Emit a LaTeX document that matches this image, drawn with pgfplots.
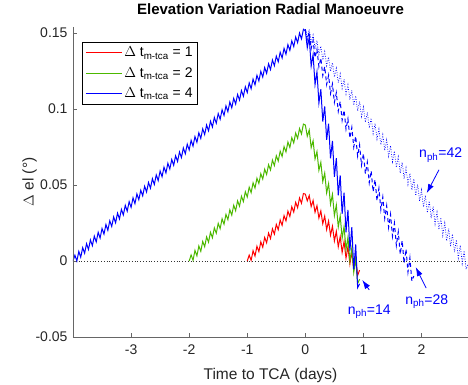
\documentclass[border=0pt]{standalone}
\usepackage{fontspec}
\setmainfont{Liberation Sans}
\usepackage{pgfplots}
\pgfplotsset{compat=1.18}
\usetikzlibrary{arrows.meta}
\definecolor{mgreen}{rgb}{0.30,0.72,0.0}
\definecolor{axgray}{rgb}{0.15,0.15,0.15}
\begin{document}
\begin{tikzpicture}
\useasboundingbox (-73pt,-48pt) rectangle (395pt,337pt);
\begin{axis}[
  at={(0pt,0pt)}, anchor=south west,
  width=395pt, height=310pt, scale only axis,
  xmin=-4, xmax=2.8, ymin=-0.05, ymax=0.154,
  axis line style={draw=none},
  xtick pos=left, ytick pos=left,
  tick style={black!60, line width=0.6pt},
  tick align=inside, major tick length=4pt,
  xtick={-3,-2,-1,0,1,2}, xticklabels={-3,-2,-1,0,1,2},
  ytick={-0.05,0,0.05,0.1,0.15}, yticklabels={-0.05,0,0.05,0.1,0.15},
  scaled y ticks=false,
  tick label style={font=\fontsize{14}{16}\selectfont, text=axgray},
  xticklabel style={yshift=-4pt},
  yticklabel style={xshift=-2pt},
  xlabel={Time to TCA (days)},
  ylabel={$\Delta$ el (°)},
  xlabel style={font=\fontsize{15.5}{17}\selectfont, text=axgray, at={(axis description cs:0.5,0)}, yshift=-38pt, anchor=center},
  ylabel style={font=\fontsize{15.5}{17}\selectfont, text=axgray, at={(axis description cs:-0.110,0.5)}, anchor=center},
  title={Elevation Variation Radial Manoeuvre},
  title style={font=\bfseries\fontsize{15}{17}\selectfont, at={(axis description cs:0.5,1)}, yshift=12pt, anchor=center},
  clip mode=individual,
  legend cell align=left,
  legend style={at={(0.023,0.952)}, anchor=north west,
    font=\fontsize{14}{16}\selectfont, inner sep=3pt, row sep=5pt},
]
\addplot[black!80, line width=0.5pt, dash pattern=on 0.8pt off 2pt, forget plot] coordinates {(-4,0) (2.8,0)};
% red
\addplot[red, line width=1.0pt, forget plot] coordinates {
(-1.0000,0) (-0.9667,0.0039) (-0.9333,0.0004) (-0.9000,0.0068) (-0.8667,0.0033) (-0.8333,0.0097) (-0.8000,0.0062) (-0.7667,0.0126) (-0.7333,0.0091) (-0.7000,0.0155) (-0.6667,0.0120) (-0.6333,0.0184) (-0.6000,0.0148) (-0.5667,0.0212) (-0.5333,0.0177) (-0.5000,0.0241) (-0.4667,0.0206) (-0.4333,0.0270) (-0.4000,0.0235) (-0.3667,0.0299) (-0.3333,0.0264) (-0.3000,0.0328) (-0.2667,0.0293) (-0.2333,0.0357) (-0.2000,0.0322) (-0.1667,0.0386) (-0.1333,0.0351) (-0.1000,0.0415) (-0.0667,0.0380) (-0.0333,0.0444) (0.0000,0.0440)
(0.0333,0.0396) (0.0667,0.0431) (0.1000,0.0358) (0.1333,0.0398) (0.1667,0.0321) (0.2000,0.0364) (0.2333,0.0283) (0.2667,0.0330) (0.3000,0.0245) (0.3333,0.0296) (0.3667,0.0207) (0.4000,0.0263) (0.4333,0.0170) (0.4667,0.0229) (0.5000,0.0132) (0.5333,0.0195) (0.5667,0.0094) (0.6000,0.0161) (0.6333,0.0057) (0.6667,0.0128) (0.7000,0.0019) (0.7333,0.0094) (0.7667,-0.0019) (0.8000,0.0060) (0.8333,-0.0057) (0.8667,0.0026) (0.9000,-0.0095) (0.9333,-0.0060)
};
% green
\addplot[mgreen, line width=1.0pt, forget plot] coordinates {
(-2.0000,0) (-1.9667,0.0040) (-1.9333,0.0005) (-1.9000,0.0070) (-1.8667,0.0034) (-1.8333,0.0099) (-1.8000,0.0064) (-1.7667,0.0129) (-1.7333,0.0094) (-1.7000,0.0159) (-1.6667,0.0124) (-1.6333,0.0189) (-1.6000,0.0153) (-1.5667,0.0218) (-1.5333,0.0183) (-1.5000,0.0248) (-1.4667,0.0213) (-1.4333,0.0278) (-1.4000,0.0242) (-1.3667,0.0307) (-1.3333,0.0272) (-1.3000,0.0337) (-1.2667,0.0302) (-1.2333,0.0367) (-1.2000,0.0331) (-1.1667,0.0396) (-1.1333,0.0361) (-1.1000,0.0426) (-1.0667,0.0391) (-1.0333,0.0456) (-1.0000,0.0421) (-0.9667,0.0486) (-0.9333,0.0450) (-0.9000,0.0515) (-0.8667,0.0480) (-0.8333,0.0545) (-0.8000,0.0510) (-0.7667,0.0575) (-0.7333,0.0539) (-0.7000,0.0604) (-0.6667,0.0569) (-0.6333,0.0634) (-0.6000,0.0599) (-0.5667,0.0664) (-0.5333,0.0628) (-0.5000,0.0693) (-0.4667,0.0658) (-0.4333,0.0723) (-0.4000,0.0688) (-0.3667,0.0753) (-0.3333,0.0718) (-0.3000,0.0783) (-0.2667,0.0747) (-0.2333,0.0812) (-0.2000,0.0777) (-0.1667,0.0842) (-0.1333,0.0807) (-0.1000,0.0872) (-0.0667,0.0836) (-0.0333,0.0901) (0.0000,0.0895)
(0.0333,0.0821) (0.0667,0.0862) (0.1000,0.0746) (0.1333,0.0791) (0.1667,0.0672) (0.2000,0.0720) (0.2333,0.0597) (0.2667,0.0650) (0.3000,0.0523) (0.3333,0.0579) (0.3667,0.0448) (0.4000,0.0509) (0.4333,0.0374) (0.4667,0.0438) (0.5000,0.0299) (0.5333,0.0368) (0.5667,0.0224) (0.6000,0.0297) (0.6333,0.0150) (0.6667,0.0227) (0.7000,0.0075) (0.7333,0.0156) (0.7667,0.0001) (0.8000,0.0086) (0.8333,-0.0074) (0.8667,0.0015) (0.9000,-0.0148) (0.9333,-0.0120)
};
% blue n_ph = 42 (dotted)
\addplot[blue, line width=0.7pt, dash pattern=on 0.8pt off 1.6pt, forget plot] coordinates {
(0.0000,0.1525) (0.0333,0.1471) (0.0667,0.1524) (0.1000,0.1434) (0.1333,0.1487) (0.1667,0.1397) (0.2000,0.1451) (0.2333,0.1360) (0.2667,0.1414) (0.3000,0.1323) (0.3333,0.1378) (0.3667,0.1285) (0.4000,0.1342) (0.4333,0.1248) (0.4667,0.1305) (0.5000,0.1211) (0.5333,0.1269) (0.5667,0.1174) (0.6000,0.1232) (0.6333,0.1137) (0.6667,0.1196) (0.7000,0.1099) (0.7333,0.1160) (0.7667,0.1062) (0.8000,0.1123) (0.8333,0.1025) (0.8667,0.1087) (0.9000,0.0988) (0.9333,0.1050) (0.9667,0.0951) (1.0000,0.1014) (1.0333,0.0913) (1.0667,0.0978) (1.1000,0.0876) (1.1333,0.0941) (1.1667,0.0839) (1.2000,0.0905) (1.2333,0.0802) (1.2667,0.0868) (1.3000,0.0765) (1.3333,0.0832) (1.3667,0.0727) (1.4000,0.0796) (1.4333,0.0690) (1.4667,0.0759) (1.5000,0.0653) (1.5333,0.0723) (1.5667,0.0616) (1.6000,0.0686) (1.6333,0.0579) (1.6667,0.0650) (1.7000,0.0541) (1.7333,0.0614) (1.7667,0.0504) (1.8000,0.0577) (1.8333,0.0467) (1.8667,0.0541) (1.9000,0.0430) (1.9333,0.0504) (1.9667,0.0393) (2.0000,0.0468) (2.0333,0.0355) (2.0667,0.0432) (2.1000,0.0318) (2.1333,0.0395) (2.1667,0.0281) (2.2000,0.0359) (2.2333,0.0244) (2.2667,0.0322) (2.3000,0.0207) (2.3333,0.0286) (2.3667,0.0169) (2.4000,0.0250) (2.4333,0.0132) (2.4667,0.0213) (2.5000,0.0095) (2.5333,0.0177) (2.5667,0.0058) (2.6000,0.0140) (2.6333,0.0021) (2.6667,0.0104) (2.7000,-0.0017) (2.7333,0.0068) (2.7667,-0.0054) (2.8000,-0.0021)
};
% blue n_ph = 28 (dashed)
\addplot[blue, line width=1.0pt, dash pattern=on 4pt off 3pt, forget plot] coordinates {
(0.0000,0.1525) (0.0333,0.1456) (0.0667,0.1508) (0.1000,0.1397) (0.1333,0.1451) (0.1667,0.1338) (0.2000,0.1393) (0.2333,0.1279) (0.2667,0.1336) (0.3000,0.1220) (0.3333,0.1279) (0.3667,0.1162) (0.4000,0.1222) (0.4333,0.1103) (0.4667,0.1165) (0.5000,0.1044) (0.5333,0.1107) (0.5667,0.0985) (0.6000,0.1050) (0.6333,0.0926) (0.6667,0.0993) (0.7000,0.0868) (0.7333,0.0936) (0.7667,0.0809) (0.8000,0.0879) (0.8333,0.0750) (0.8667,0.0821) (0.9000,0.0691) (0.9333,0.0764) (0.9667,0.0632) (1.0000,0.0707) (1.0333,0.0574) (1.0667,0.0650) (1.1000,0.0515) (1.1333,0.0593) (1.1667,0.0456) (1.2000,0.0535) (1.2333,0.0397) (1.2667,0.0478) (1.3000,0.0338) (1.3333,0.0421) (1.3667,0.0280) (1.4000,0.0364) (1.4333,0.0221) (1.4667,0.0307) (1.5000,0.0162) (1.5333,0.0249) (1.5667,0.0103) (1.6000,0.0192) (1.6333,0.0044) (1.6667,0.0135) (1.7000,-0.0014) (1.7333,0.0078) (1.7667,-0.0073) (1.8000,0.0021) (1.8333,-0.0132) (1.8667,-0.0099)
};
% blue rise + n_ph = 14
\addplot[blue, line width=1.0pt, forget plot] coordinates {
(-4.0000,0) (-3.9667,0.0038) (-3.9333,0.0000) (-3.9000,0.0063) (-3.8667,0.0025) (-3.8333,0.0088) (-3.8000,0.0051) (-3.7667,0.0114) (-3.7333,0.0076) (-3.7000,0.0139) (-3.6667,0.0101) (-3.6333,0.0164) (-3.6000,0.0126) (-3.5667,0.0189) (-3.5333,0.0151) (-3.5000,0.0214) (-3.4667,0.0177) (-3.4333,0.0240) (-3.4000,0.0202) (-3.3667,0.0265) (-3.3333,0.0227) (-3.3000,0.0290) (-3.2667,0.0252) (-3.2333,0.0315) (-3.2000,0.0277) (-3.1667,0.0340) (-3.1333,0.0303) (-3.1000,0.0366) (-3.0667,0.0328) (-3.0333,0.0391) (-3.0000,0.0353) (-2.9667,0.0416) (-2.9333,0.0378) (-2.9000,0.0441) (-2.8667,0.0403) (-2.8333,0.0466) (-2.8000,0.0429) (-2.7667,0.0492) (-2.7333,0.0454) (-2.7000,0.0517) (-2.6667,0.0479) (-2.6333,0.0542) (-2.6000,0.0504) (-2.5667,0.0567) (-2.5333,0.0529) (-2.5000,0.0592) (-2.4667,0.0555) (-2.4333,0.0618) (-2.4000,0.0580) (-2.3667,0.0643) (-2.3333,0.0605) (-2.3000,0.0668) (-2.2667,0.0630) (-2.2333,0.0693) (-2.2000,0.0655) (-2.1667,0.0718) (-2.1333,0.0681) (-2.1000,0.0744) (-2.0667,0.0706) (-2.0333,0.0769) (-2.0000,0.0731) (-1.9667,0.0794) (-1.9333,0.0756) (-1.9000,0.0819) (-1.8667,0.0781) (-1.8333,0.0844) (-1.8000,0.0807) (-1.7667,0.0870) (-1.7333,0.0832) (-1.7000,0.0895) (-1.6667,0.0857) (-1.6333,0.0920) (-1.6000,0.0882) (-1.5667,0.0945) (-1.5333,0.0907) (-1.5000,0.0970) (-1.4667,0.0933) (-1.4333,0.0996) (-1.4000,0.0958) (-1.3667,0.1021) (-1.3333,0.0983) (-1.3000,0.1046) (-1.2667,0.1008) (-1.2333,0.1071) (-1.2000,0.1033) (-1.1667,0.1096) (-1.1333,0.1059) (-1.1000,0.1122) (-1.0667,0.1084) (-1.0333,0.1147) (-1.0000,0.1109) (-0.9667,0.1172) (-0.9333,0.1134) (-0.9000,0.1197) (-0.8667,0.1159) (-0.8333,0.1222) (-0.8000,0.1185) (-0.7667,0.1248) (-0.7333,0.1210) (-0.7000,0.1273) (-0.6667,0.1235) (-0.6333,0.1298) (-0.6000,0.1260) (-0.5667,0.1323) (-0.5333,0.1285) (-0.5000,0.1348) (-0.4667,0.1311) (-0.4333,0.1374) (-0.4000,0.1336) (-0.3667,0.1399) (-0.3333,0.1361) (-0.3000,0.1424) (-0.2667,0.1386) (-0.2333,0.1449) (-0.2000,0.1411) (-0.1667,0.1474) (-0.1333,0.1437) (-0.1000,0.1500) (-0.0667,0.1462) (-0.0333,0.1525) (0.0000,0.1515)
(0.0333,0.1404) (0.0667,0.1472) (0.1000,0.1283) (0.1333,0.1358) (0.1667,0.1161) (0.2000,0.1245) (0.2333,0.1040) (0.2667,0.1131) (0.3000,0.0918) (0.3333,0.1018) (0.3667,0.0797) (0.4000,0.0904) (0.4333,0.0675) (0.4667,0.0791) (0.5000,0.0554) (0.5333,0.0677) (0.5667,0.0432) (0.6000,0.0564) (0.6333,0.0311) (0.6667,0.0450) (0.7000,0.0189) (0.7333,0.0337) (0.7667,0.0068) (0.8000,0.0223) (0.8333,-0.0054) (0.8667,0.0110) (0.9000,-0.0175) (0.9333,-0.0150)
};
\addlegendimage{legend image code/.code={\draw[red, line width=1pt] (0pt,0pt) -- (36pt,0pt);}}
\addlegendentry{$\Delta$ t\textsubscript{m-tca} = 1}
\addlegendimage{legend image code/.code={\draw[mgreen, line width=1pt] (0pt,0pt) -- (36pt,0pt);}}
\addlegendentry{$\Delta$ t\textsubscript{m-tca} = 2}
\addlegendimage{legend image code/.code={\draw[blue, line width=1pt] (0pt,0pt) -- (36pt,0pt);}}
\addlegendentry{$\Delta$ t\textsubscript{m-tca} = 4}
% axis lines (left and bottom only)
\draw[black!60, line width=0.8pt] (rel axis cs:0,1) -- (rel axis cs:0,0) -- (rel axis cs:1,0);
% annotations
\draw[blue, line width=0.8pt, -{Latex[length=9pt,width=6pt]}] (axis cs:1.10,-0.0190) -- (axis cs:0.98,-0.0125);
\draw[blue, line width=0.8pt, -{Latex[length=9pt,width=6pt]}] (axis cs:2.08,-0.0178) -- (axis cs:1.90,-0.0040);
\draw[blue, line width=0.8pt, -{Latex[length=9pt,width=6pt]}] (axis cs:2.30,0.0600) -- (axis cs:2.09,0.0447);
\node[blue, font=\fontsize{14}{16}\selectfont] at (axis cs:1.10,-0.0335) {n\textsubscript{ph}=14};
\node[blue, font=\fontsize{14}{16}\selectfont] at (axis cs:2.09,-0.0270) {n\textsubscript{ph}=28};
\node[blue, font=\fontsize{14}{16}\selectfont] at (axis cs:2.33,0.0697) {n\textsubscript{ph}=42};
\end{axis}
\end{tikzpicture}
\end{document}
